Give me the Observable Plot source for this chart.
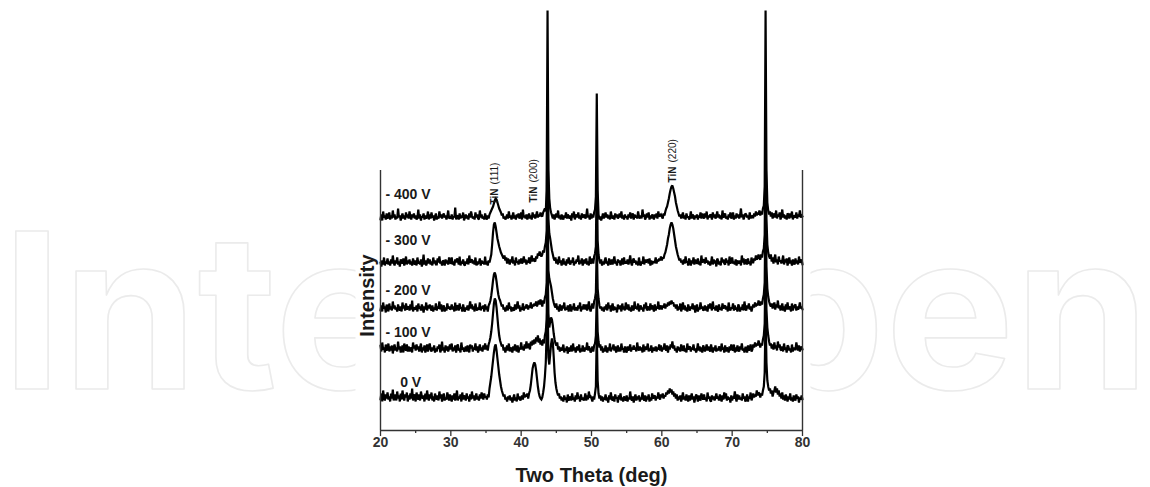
<!DOCTYPE html>
<html>
<head>
<meta charset="utf-8">
<script src="https://cdn.jsdelivr.net/npm/d3@7"></script>
<script src="https://cdn.jsdelivr.net/npm/@observablehq/plot@0.6"></script>
<style>
  html, body { margin: 0; padding: 0; background: #fff; }
  g[aria-label="hkl"] text { letter-spacing: 1.6px; }
</style>
</head>
<body>
<div id="chart"></div>
<script>
// ---- data: 2θ grid 20..80 with step 0.125°, intensities (a.u.) read per degree, 8 values per row ----
const thetaStart = 20, thetaStep = 0.125;
const seriesLabels = ["0 V", "- 100 V", "- 200 V", "- 300 V", "- 400 V"];
const seriesOffsets = [28, 77, 118, 164, 210];
const xTicks = [20, 30, 40, 50, 60, 70, 80];
const xMinorTicks = [25, 35, 45, 55, 65, 75];
const peakLabels = ["(111)", "(200)", "(220)"];
const peakTheta = [36.2, 41.8, 61.5];
const peakPhase = "TiN";

const i0V = [
/*20*/ 3,9,1,12,5,2,8,4,  10,3,6,1,9,4,13,2,  5,8,2,11,4,7,1,9,  3,12,6,2,8,5,10,1,  7,3,9,4,14,2,6,8,
/*25*/ 1,10,5,3,8,2,11,6,  4,7,1,9,3,12,5,2,  8,4,10,2,6,1,9,5,  3,7,2,11,4,8,1,6,  9,2,5,3,10,6,2,8,
/*30*/ 4,1,7,3,9,2,5,12,  2,6,4,8,1,10,3,7,  5,2,9,4,6,1,8,3,  11,4,7,2,5,9,3,6,  2,8,4,10,6,3,9,5,
/*35*/ 6,3,8,5,14,20,26,34,  42,50,56,58,52,44,36,28,  22,16,12,9,6,8,3,5,  1,6,3,7,2,5,0,4,  8,2,5,1,9,3,6,2,
/*40*/ 4,7,3,10,5,8,6,9,  4,9,12,18,26,34,38,40,  38,32,24,16,10,6,4,3,  5,10,16,26,40,70,110,45,  38,48,58,64,60,46,30,20,
/*45*/ 14,10,7,9,4,6,2,5,  1,7,3,5,0,8,2,4,  6,2,9,3,5,1,7,3,  10,4,6,1,8,3,5,2,  4,9,2,7,3,11,5,6,
/*50*/ 4,1,6,3,9,16,70,22,  9,4,7,2,6,1,5,3,  8,2,5,0,7,3,10,4,  2,6,1,8,4,5,0,7,  3,9,2,5,1,6,4,2,
/*55*/ 7,1,5,3,11,4,2,6,  0,5,8,2,6,3,7,1,  5,3,10,4,2,7,1,6,  3,8,1,5,2,9,4,6,  7,2,6,4,10,5,3,8,
/*60*/ 5,9,4,7,6,10,8,12,  9,14,10,13,8,11,6,9,  4,8,2,6,3,7,1,5,  10,3,6,2,8,4,1,7,  2,5,9,3,6,0,4,8,
/*65*/ 6,1,7,4,2,9,5,3,  8,3,5,1,10,4,6,2,  1,7,3,6,2,5,9,4,  6,2,8,4,1,7,3,10,  4,9,2,6,3,5,0,7,
/*70*/ 2,6,4,11,5,1,8,3,  7,3,5,2,9,4,6,1,  3,8,1,6,4,10,2,5,  9,5,8,6,12,7,10,9,  5,9,7,12,16,30,90,40,
/*75*/ 22,16,12,14,9,12,6,10,  12,16,10,14,8,12,6,9,  4,10,3,7,2,8,5,1,  6,3,9,2,5,1,7,4,  2,8,4,6,0,5,3,7,
/*80*/ 3
];
const i100V = [
/*20*/ 8,2,11,4,6,1,9,3,  5,10,2,7,3,8,0,6,  9,3,6,2,12,4,7,1,  4,8,1,10,5,3,9,2,  7,2,6,4,1,11,5,8,
/*25*/ 3,9,4,7,2,6,10,1,  6,3,8,1,5,9,2,7,  10,4,2,6,3,8,1,5,  2,7,5,9,1,4,12,3,  6,1,8,3,7,2,5,9,
/*30*/ 4,10,2,6,3,8,1,7,  9,3,5,1,11,4,6,2,  3,7,2,8,4,1,9,5,  8,2,6,4,10,3,7,1,  5,9,3,6,2,8,4,10,
/*35*/ 4,8,3,9,12,16,22,30,  40,50,55,53,46,36,26,18,  13,10,7,9,3,6,1,5,  8,3,10,2,6,4,1,7,  3,9,5,2,8,1,6,4,
/*40*/ 11,4,7,3,9,5,12,6,  6,10,4,12,8,13,9,14,  10,16,12,18,11,15,9,13,  8,14,10,18,22,34,100,40,  26,32,36,34,28,20,14,10,
/*45*/ 8,11,4,7,2,6,3,5,  9,1,5,3,7,0,6,2,  4,8,2,10,3,6,1,5,  7,3,9,1,5,2,8,4,  2,6,4,11,3,7,5,1,
/*50*/ 3,7,2,8,10,18,60,22,  12,6,9,3,7,1,5,2,  8,4,1,6,3,10,2,5,  5,9,3,7,1,4,8,2,  6,2,10,4,5,1,7,3,
/*55*/ 1,7,3,5,9,2,6,4,  8,4,6,2,11,5,3,7,  3,6,1,9,2,7,4,5,  10,2,5,3,8,1,6,3,  4,7,2,6,4,9,3,8,
/*60*/ 2,6,4,10,5,3,8,1,  7,4,9,6,12,5,8,3,  5,1,7,3,6,2,9,4,  3,8,2,5,1,10,4,6,  7,2,6,4,9,3,5,1,
/*65*/ 4,10,3,7,2,6,1,8,  6,2,5,9,3,7,4,2,  9,4,1,6,3,8,2,5,  3,7,5,2,10,4,6,1,  8,2,6,4,1,7,3,9,
/*70*/ 5,3,9,1,6,2,8,4,  2,7,4,10,3,5,1,6,  6,1,8,3,5,9,2,4,  9,6,11,7,10,8,13,10,  6,10,8,14,18,30,100,44,
/*75*/ 26,18,12,8,10,5,9,4,  11,5,8,3,12,6,9,4,  3,7,2,10,4,6,1,8,  7,3,5,1,9,2,6,4,  4,11,6,3,8,2,5,7,
/*80*/ 4
];
const i200V = [
/*20*/ 2,7,1,10,4,6,0,8,  5,1,9,3,6,2,11,4,  7,3,5,1,8,4,2,6,  1,10,4,7,2,9,3,5,  6,2,8,3,12,1,5,4,
/*25*/ 3,7,1,9,4,6,2,8,  5,0,6,3,10,2,7,4,  8,4,2,7,1,5,3,9,  2,6,4,11,3,8,1,5,  7,1,5,2,9,4,6,3,
/*30*/ 4,8,3,6,1,10,2,7,  6,2,9,4,5,1,8,3,  1,5,3,7,2,6,11,4,  8,3,6,1,9,4,2,5,  3,10,2,6,4,7,1,8,
/*35*/ 3,6,1,7,9,12,17,24,  32,38,40,37,31,24,18,14,  12,9,6,8,3,5,1,4,  7,2,10,4,6,1,5,3,  2,8,3,6,11,4,7,1,
/*40*/ 5,3,9,2,6,4,8,6,  3,7,5,10,4,8,6,9,  7,11,6,9,12,8,13,10,  6,12,9,15,18,30,110,42,  34,30,26,20,14,10,7,5,
/*45*/ 9,3,6,1,8,4,2,7,  4,10,2,5,3,7,1,6,  8,1,6,3,9,2,5,4,  2,7,4,10,1,6,3,8,  6,3,8,2,5,11,4,1,
/*50*/ 5,9,4,11,14,20,70,24,  14,7,4,6,2,5,1,6,  3,8,2,10,4,7,1,5,  9,2,6,3,5,0,8,4,  4,7,1,9,3,6,2,10,
/*55*/ 6,3,8,2,5,1,7,4,  2,11,4,6,3,9,1,5,  7,3,5,1,8,4,10,2,  4,6,2,9,3,7,5,1,  8,2,6,4,11,3,5,7,
/*60*/ 3,7,5,9,4,8,6,10,  7,11,8,12,9,10,6,8,  4,8,2,6,3,9,1,5,  10,3,7,2,5,1,8,4,  2,6,4,9,3,7,0,5,
/*65*/ 8,1,5,3,10,4,6,2,  3,7,2,6,1,8,4,9,  6,2,11,4,5,2,7,3,  1,8,3,5,2,9,4,6,  7,3,6,1,10,4,2,5,
/*70*/ 4,9,2,7,3,5,1,8,  6,1,5,3,8,2,11,4,  2,7,4,9,3,6,1,5,  8,5,10,6,9,7,12,9,  7,11,8,14,18,30,120,46,
/*75*/ 24,16,11,8,6,9,4,7,  10,3,8,5,12,4,7,2,  5,9,2,6,1,8,3,10,  3,6,4,1,9,2,5,7,  8,2,6,3,5,10,4,6,
/*80*/ 3
];
const i300V = [
/*20*/ 4,0,6,2,9,1,5,3,  8,2,5,1,7,3,11,4,  1,6,3,9,2,5,0,7,  5,3,8,1,4,10,2,6,  3,7,2,5,1,8,4,2,
/*25*/ 6,1,9,3,5,2,7,0,  4,12,2,6,1,4,8,3,  7,2,5,1,9,3,6,2,  2,8,4,10,3,5,1,6,  5,1,7,3,6,2,9,4,
/*30*/ 3,9,2,5,1,7,4,8,  6,2,10,1,5,3,7,2,  1,5,3,8,2,11,4,6,  7,3,6,2,9,1,5,3,  4,8,1,6,3,5,2,10,
/*35*/ 2,5,1,6,4,8,12,22,  34,42,44,40,34,28,24,20,  17,14,12,10,8,11,6,9,  3,8,5,2,7,4,10,3,  6,1,9,4,5,2,7,3,
/*40*/ 8,3,5,10,4,7,2,6,  4,9,3,7,11,5,8,6,  5,10,8,13,11,15,12,10,  12,16,14,20,24,36,159,48,  33,28,22,16,12,8,6,9,
/*45*/ 3,7,2,10,4,6,1,5,  8,2,5,1,7,3,9,4,  2,6,4,9,1,5,3,7,  5,11,2,6,3,8,1,4,  7,3,8,2,5,1,10,3,
/*50*/ 4,8,3,10,13,20,100,26,  12,6,3,7,1,5,2,6,  9,3,5,1,8,4,2,7,  2,6,10,3,5,1,7,4,  6,1,4,8,2,9,3,5,
/*55*/ 3,7,2,5,11,4,1,6,  8,4,6,2,5,1,9,3,  1,5,3,10,2,7,4,6,  7,3,8,1,6,2,5,4,  4,9,3,7,5,8,6,10,
/*60*/ 6,9,8,12,14,18,22,28,  32,38,42,44,42,38,32,26,  20,16,12,9,6,8,4,6,  2,7,3,10,4,5,1,8,  5,1,6,3,9,2,7,4,
/*65*/ 3,8,2,5,1,11,4,6,  7,3,9,4,6,2,5,1,  4,10,2,7,3,6,0,8,  6,2,5,1,9,4,7,3,  2,8,4,6,1,10,3,5,
/*70*/ 9,3,5,2,7,1,6,4,  3,6,1,11,4,8,2,5,  7,2,8,3,5,1,9,4,  4,8,6,11,7,9,12,8,  7,12,9,15,18,32,140,48,
/*75*/ 22,14,10,8,12,5,9,3,  8,12,4,7,2,10,5,6,  3,6,11,2,7,4,8,1,  5,9,3,6,1,7,4,2,  8,3,6,2,10,4,5,7,
/*80*/ 2
];
const i400V = [
/*20*/ 1,6,0,9,3,5,1,7,  2,4,8,1,5,2,10,3,  6,1,4,2,12,3,5,0,  4,7,2,5,1,8,3,6,  2,9,4,1,6,3,7,2,
/*25*/ 5,1,3,11,2,6,0,4,  3,7,1,5,2,4,9,1,  6,2,8,3,5,0,4,7,  1,4,2,9,3,6,2,5,  7,3,5,1,4,10,2,3,
/*30*/ 2,6,1,4,3,13,1,5,  4,1,7,2,5,3,8,0,  3,6,2,5,1,7,3,9,  5,2,4,1,8,3,6,2,  1,10,3,6,2,4,1,7,
/*35*/ 3,1,5,2,6,8,10,12,  14,17,20,22,21,18,15,12,  10,8,5,7,2,4,1,3,  6,2,9,3,5,1,4,8,  2,5,1,6,3,7,2,4,
/*40*/ 8,1,11,3,5,2,6,1,  4,7,2,5,1,8,3,6,  2,5,9,3,6,4,8,5,  4,8,10,12,9,30,210,50,  22,12,8,5,2,6,1,4,
/*45*/ 7,3,10,2,5,1,6,3,  1,5,3,8,2,6,4,2,  5,0,7,3,9,1,4,6,  3,8,2,5,1,7,3,4,  6,2,4,12,3,5,1,7,
/*50*/ 2,6,3,8,11,24,127,30,  6,1,4,0,3,7,2,5,  8,3,6,2,5,1,9,4,  2,5,1,7,3,6,2,4,  7,3,9,2,5,1,6,3,
/*55*/ 4,1,6,3,8,2,5,7,  1,6,3,5,2,9,4,2,  5,2,11,4,6,1,3,7,  3,8,1,5,2,6,4,1,  6,3,7,2,9,4,5,6,
/*60*/ 4,2,7,5,9,12,14,18,  22,27,31,34,35,32,28,24,  18,14,10,7,4,6,2,5,  8,2,5,1,7,3,4,1,  3,9,2,6,4,1,5,3,
/*65*/ 6,1,5,3,8,2,7,4,  2,7,3,9,1,5,3,6,  5,1,8,3,6,2,4,9,  3,6,2,5,1,10,3,5,  7,2,4,1,6,3,8,2,
/*70*/ 4,8,1,5,2,7,3,6,  2,5,12,3,6,1,4,7,  6,3,5,1,8,2,5,3,  3,7,4,9,5,8,6,10,  5,9,6,12,15,34,210,50,
/*75*/ 18,10,6,9,4,8,2,5,  7,3,10,2,6,4,8,1,  4,11,3,6,2,5,1,7,  6,2,7,3,9,1,5,4,  3,8,2,6,4,10,3,5,
/*80*/ 4
];
const seriesValues = [i0V, i100V, i200V, i300V, i400V];

seriesValues.forEach((s, k) => {
  if (s.length !== 481) throw new Error("series " + seriesLabels[k] + " has " + s.length + " values");
});

const rows = seriesValues.flatMap((vals, k) =>
  vals.map((v, i) => ({theta: thetaStart + i * thetaStep, y: seriesOffsets[k] + v, series: seriesLabels[k]}))
);

const font = "'Liberation Sans', Arial, Helvetica, sans-serif";
const ink = "#1a1a1a";

const chart = Plot.plot({
  width: 1150,
  height: 487,
  marginLeft: 380,
  marginRight: 348,
  marginTop: 0,
  marginBottom: 57,
  style: {fontFamily: font, background: "#fff", color: ink, overflow: "visible"},
  x: {domain: [20, 80], axis: null},
  y: {domain: [0, 430], axis: null},
  marks: [
    // watermark
    Plot.text(["Inte"], {frameAnchor: "bottom-left", dx: -379, dy: -42, textAnchor: "start", lineAnchor: "bottom",
      fontSize: 217, fontFamily: "Inter", fontWeight: 700, fill: "none", stroke: "#ebebeb", strokeWidth: 1.6}),
    Plot.text(["Open"], {frameAnchor: "bottom-right", dx: 347, dy: -42, textAnchor: "end", lineAnchor: "bottom",
      fontSize: 217, fontFamily: "Inter", fontWeight: 700, fill: "none", stroke: "#ebebeb", strokeWidth: 1.6}),
    Plot.frame({fill: "white", stroke: "none", insetLeft: -25, insetRight: -8, insetBottom: -57}),
    // patterns
    Plot.line(rows, {x: "theta", y: "y", z: "series", stroke: "#000", strokeWidth: 2.2, strokeLinejoin: "miter", strokeMiterlimit: 2}),
    // series labels
    Plot.text(seriesLabels, {
      x: (d, i) => (i === 0 ? 22.8 : 20.7),
      y: (d, i) => seriesOffsets[i] + [16, 17, 18, 22, 22][i],
      textAnchor: "start", lineAnchor: "bottom", fontSize: 14, fontWeight: "bold", fill: ink
    }),
    // peak labels
    Plot.text(peakLabels, {
      x: (d, i) => peakTheta[i], y: (d, i) => [226, 228, 248][i],
      text: () => peakPhase, rotate: -90, textAnchor: "start", lineAnchor: "middle",
      fontSize: 10, fontWeight: "bold", fill: ink
    }),
    Plot.text(peakLabels, {
      x: (d, i) => peakTheta[i], y: (d, i) => [226, 228, 248][i], dy: -20,
      rotate: -90, textAnchor: "start", lineAnchor: "middle",
      fontSize: 10, fill: ink, ariaLabel: "hkl"
    }),
    // frame
    Plot.ruleX([20, 80], {y1: 0, y2: 260, stroke: "#333", strokeWidth: 1.4}),
    Plot.ruleY([0], {stroke: "#333", strokeWidth: 1.5}),
    // axis
    Plot.axisX({ticks: xTicks, tickSize: 6, tickPadding: 1, label: null, fontSize: 14, fontWeight: "bold", stroke: "#333", fill: "#333", strokeWidth: 1.3}),
    Plot.ruleX(xMinorTicks, {y1: 0, y2: -3, stroke: "#333", strokeWidth: 1.3}),
    Plot.text(["Two Theta (deg)"], {frameAnchor: "bottom", dy: 45, textAnchor: "middle", lineAnchor: "middle", fontSize: 20, fontWeight: "bold", fill: ink}),
    Plot.text(["Intensity"], {frameAnchor: "left", dx: -13, y: 135, rotate: -90, textAnchor: "middle", lineAnchor: "middle", fontSize: 20, fontWeight: "bold", fill: ink})
  ]
});
document.getElementById("chart").appendChild(chart);
</script>
</body>
</html>
